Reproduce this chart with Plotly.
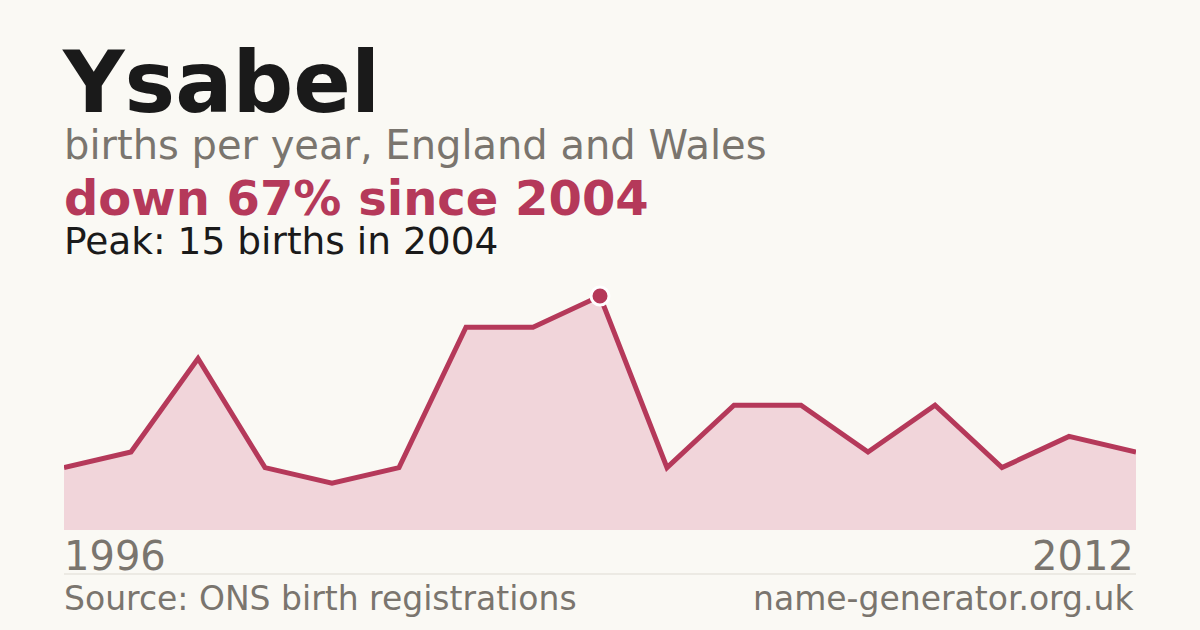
import plotly.graph_objects as go

years = list(range(1996, 2013))
births = [4, 5, 11, 4, 3, 4, 13, 13, 15, 4, 8, 8, 5, 8, 4, 6, 5]

name = "Ysabel"
subtitle = "births per year, England and Wales"
source = "Source: ONS birth registrations"
site = "name-generator.org.uk"

RED = "#b5395a"
FILL = "#f1d5da"
GREY = "#7a756e"
BG = "#faf9f4"
FONT = "DejaVu Sans"

peak_i = births.index(max(births))
peak_year = years[peak_i]
peak_val = births[peak_i]
change = round((births[-1] - peak_val) / peak_val * 100)

fig = go.Figure()
fig.add_trace(go.Scatter(
    x=years, y=births, mode="lines", fill="tozeroy",
    fillcolor=FILL, line=dict(color=RED, width=5),
    hoverinfo="skip", showlegend=False,
))
fig.add_trace(go.Scatter(
    x=[peak_year], y=[peak_val], mode="markers",
    marker=dict(size=18, color=RED, line=dict(color="white", width=3)),
    hoverinfo="skip", showlegend=False, cliponaxis=False,
))

def note(text, x, y, size, color, anchor="left", bold=False):
    if bold:
        text = f"<b>{text}</b>"
    fig.add_annotation(text=text, x=x, y=y, xref="paper", yref="paper",
                       xanchor=anchor, yanchor="middle", showarrow=False,
                       font=dict(family=FONT, size=size, color=color))

note(name, -0.004, 1.790, 85, "#1a1a1a", bold=True)
note(subtitle, -0.002, 1.539, 40, GREY)
note(f"down {abs(change)}% since {peak_year}", -0.002, 1.330, 48, RED, bold=True)
note(f"Peak: {peak_val} births in {peak_year}", -0.002, 1.158, 37.5, "#1a1a1a")
note(str(years[0]), -0.002, -0.104, 40, GREY)
note(str(years[-1]), 1.0, -0.104, 40, GREY, anchor="right")
note(source, -0.002, -0.274, 33, GREY)
note(site, 1.0, -0.274, 33, GREY, anchor="right")

fig.add_shape(type="line", xref="paper", yref="paper", x0=0, x1=1,
              y0=-0.176, y1=-0.176, line=dict(color="#dedbd3", width=1))

fig.update_layout(
    width=1200, height=630, paper_bgcolor=BG, plot_bgcolor=BG,
    margin=dict(l=64, r=64, t=280, b=100),
    xaxis=dict(range=[years[0], years[-1]], visible=False, fixedrange=True),
    yaxis=dict(range=[0, 16.03], visible=False, fixedrange=True),
    font=dict(family=FONT),
)

# drop the browser's default body margin so the figure sits at the page corner
fig.write_html("out.html", config={"displayModeBar": False},
               post_script="document.body.style.margin='0';")
